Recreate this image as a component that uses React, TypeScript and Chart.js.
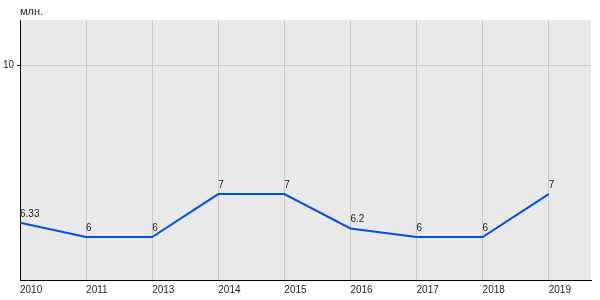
import React, { useEffect, useRef } from "react";
import { Chart, registerables } from "chart.js";

Chart.register(...registerables);

const categories = ["2010", "2011", "2013", "2014", "2015", "2016", "2017", "2018", "2019"];
const values = [6.33, 6, 6, 7, 7, 6.2, 6, 6, 7];
const pointLabels = ["6.33", "6", "6", "7", "7", "6.2", "6", "6", "7"];
const yTicks = [10];
const unitLabel = "млн.";

const FONT = "Liberation Sans, Arial, sans-serif";

export default function App() {
  const ref = useRef<HTMLCanvasElement | null>(null);

  useEffect(() => {
    document.body.style.margin = "0";
    const canvas = ref.current;
    if (!canvas) return;

    const bgPlugin = {
      id: "bg",
      beforeDraw(chart: any) {
        const { ctx, chartArea } = chart;
        ctx.save();
        ctx.fillStyle = "#e9e9e9";
        ctx.fillRect(chartArea.left, chartArea.top, chartArea.right - chartArea.left, chartArea.bottom - chartArea.top);
        ctx.restore();
      },
    };

    const labelPlugin = {
      id: "labels",
      afterDatasetsDraw(chart: any) {
        const { ctx } = chart;
        const meta = chart.getDatasetMeta(0);
        ctx.save();
        ctx.font = `10px ${FONT}`;
        ctx.fillStyle = "#222";
        ctx.textAlign = "left";
        ctx.textBaseline = "bottom";
        meta.data.forEach((pt: any, i: number) => {
          ctx.fillText(pointLabels[i], pt.x, pt.y - 4);
        });
        ctx.font = `11px ${FONT}`;
        ctx.textBaseline = "middle";
        ctx.fillText(unitLabel, chart.chartArea.left, 12);
        ctx.restore();
      },
    };

    const chart = new Chart(canvas, {
      type: "line",
      data: {
        datasets: [
          {
            data: values.map((v, i) => ({ x: i, y: v })),
            borderColor: "#0052e0",
            borderWidth: 2,
            pointRadius: 0,
            tension: 0,
            fill: false,
          },
        ],
      },
      options: {
        animation: false,
        responsive: false,
        maintainAspectRatio: false,
        layout: { padding: { top: 20, right: 9, left: 0, bottom: 0 } },
        plugins: { legend: { display: false }, tooltip: { enabled: false } },
        scales: {
          x: {
            type: "linear",
            min: 0,
            max: 8.64,
            afterBuildTicks(scale: any) {
              scale.ticks = categories.map((_, i) => ({ value: i }));
            },
            afterFit(scale: any) {
              scale.height = 20;
            },
            ticks: {
              autoSkip: false,
              maxRotation: 0,
              align: "start",
              padding: 4,
              color: "#222",
              font: { family: FONT, size: 10 },
              callback: (v: any) => categories[Math.round(Number(v))] ?? "",
            },
            grid: { color: "#c8c8c8", drawTicks: false, lineWidth: 1 },
            border: { color: "#000", width: 1 },
          },
          y: {
            type: "linear",
            min: 5,
            max: 11.05,
            afterBuildTicks(scale: any) {
              scale.ticks = yTicks.map((v) => ({ value: v }));
            },
            afterFit(scale: any) {
              scale.width = 20;
            },
            ticks: {
              padding: 3,
              color: "#222",
              font: { family: FONT, size: 10 },
            },
            grid: { color: "#c8c8c8", tickColor: "#000", tickLength: 3, lineWidth: 1 },
            border: { color: "#000", width: 1 },
          },
        },
      },
      plugins: [bgPlugin, labelPlugin],
    });

    return () => chart.destroy();
  }, []);

  return <canvas ref={ref} width={600} height={300} style={{ display: "block" }} />;
}
